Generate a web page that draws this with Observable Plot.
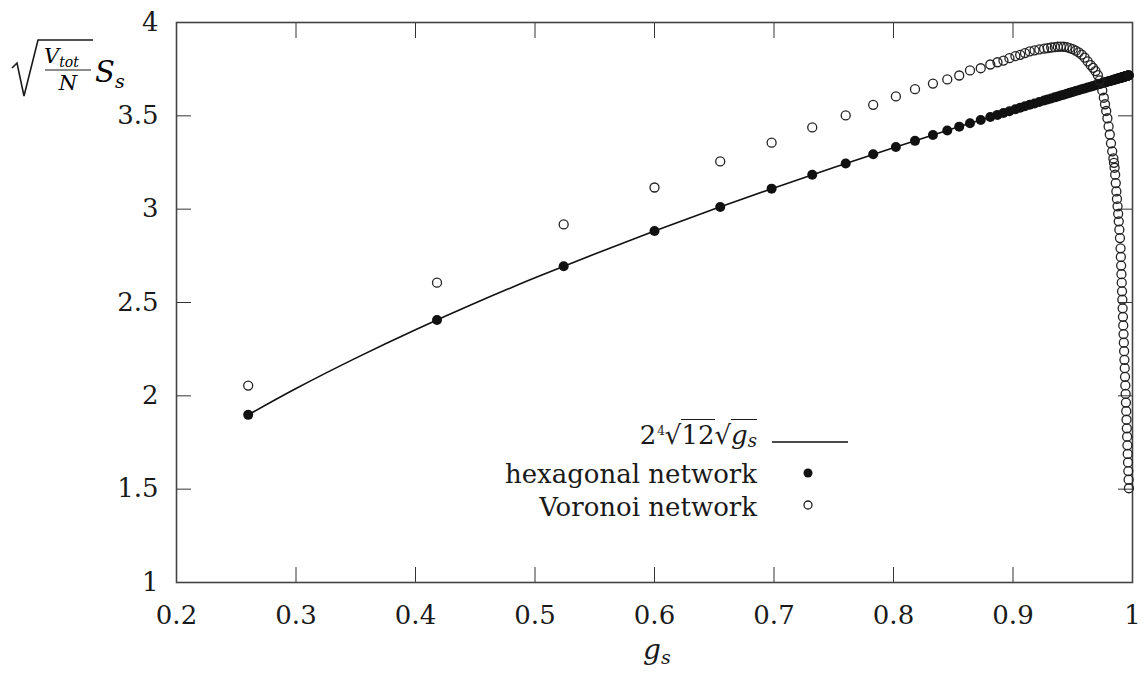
<!DOCTYPE html>
<html><head><meta charset="utf-8">
<script src="https://cdn.jsdelivr.net/npm/d3@7"></script>
<script src="https://cdn.jsdelivr.net/npm/@observablehq/plot@0.6"></script>
<style>
body{margin:0;background:#fff;}
#wrap{position:relative;width:1148px;height:680px;font-family:"DejaVu Serif","Liberation Serif",serif;color:#1a1a1a;}
.ov{position:absolute;white-space:nowrap;}
.leg{position:absolute;right:391px;font-size:26px;line-height:26px;white-space:nowrap;}
.bar{border-top:1.4px solid #1a1a1a;}
</style></head><body><div id="wrap"></div>
<script>
// shared g_s values (x) of both networks
const gs = [0.260,0.418,0.524,0.600,0.655,0.698,0.732,0.760,0.783,0.802,0.818,0.833,0.845,0.855,0.864,0.873,0.881,0.887,0.892,0.897,0.902,0.906,
0.910,0.914,0.918,0.922,0.926,0.929,0.932,0.935,0.9375,0.940,
0.9425,0.945,0.9475,0.950,0.9525,0.955,0.9575,0.960,0.9625,0.965,0.967,0.969,0.971,0.9725,0.9747,
0.976,0.977,0.978,0.979,0.980,0.981,0.982,0.983,0.984,
0.9845,0.985,0.9855,0.986,0.9865,0.987,0.9875,0.988,0.9885,0.989,0.9895,0.990,
0.99025,0.9905,0.99075,0.991,0.99125,0.9915,0.99175,0.992,0.99225,0.9925,0.99275,0.993,0.99325,0.9935,0.99375,0.994,0.99425,0.9945,0.99475,0.995,0.99525,0.9955,0.99575,0.996,0.99625,0.9965,0.99675,0.997];
const hexY = [1.898,2.406,2.694,2.883,3.012,3.110,3.184,3.245,3.294,3.333,3.366,3.397,3.421,3.442,3.460,3.478,3.494,3.505,3.515,3.525,3.535,3.543,
3.551,3.559,3.566,3.574,3.582,3.588,3.593,3.599,3.604,3.609,
3.613,3.618,3.623,3.628,3.633,3.637,3.642,3.647,3.652,3.656,3.660,3.664,3.668,3.670,3.675,
3.677,3.679,3.681,3.683,3.685,3.686,3.688,3.690,3.692,
3.693,3.694,3.695,3.696,3.697,3.698,3.699,3.700,3.701,3.701,3.702,3.703,
3.704,3.704,3.705,3.705,3.706,3.706,3.707,3.707,3.708,3.708,3.709,3.709,3.710,3.710,3.711,3.711,3.712,3.712,3.713,3.713,3.714,3.714,3.715,3.715,3.716,3.716,3.716,3.717];
const vorY = [2.055,2.606,2.918,3.116,3.256,3.356,3.438,3.502,3.559,3.604,3.643,3.673,3.695,3.716,3.743,3.755,3.775,3.787,3.796,3.809,3.820,3.827,
3.836,3.845,3.851,3.856,3.860,3.863,3.866,3.868,3.870,3.871,
3.870,3.868,3.863,3.857,3.849,3.840,3.828,3.812,3.792,3.772,3.757,3.740,3.718,3.690,3.636,
3.597,3.562,3.526,3.487,3.443,3.400,3.353,3.310,3.272,
3.248,3.222,3.185,3.140,3.095,3.055,3.015,2.975,2.935,2.890,2.845,2.790,
2.744,2.698,2.652,2.606,2.560,2.515,2.469,2.423,2.377,2.331,2.285,2.239,2.193,2.148,2.102,2.056,2.010,1.964,1.918,1.872,1.826,1.781,1.735,1.689,1.643,1.597,1.551,1.505];
// curve 2*12^(1/4)*sqrt(g_s)
const curveX = [0.26,0.30,0.35,0.40,0.45,0.50,0.55,0.60,0.65,0.70,0.75,0.80,0.85,0.90,0.95,1.00];
const curveY = [1.898,2.039,2.202,2.354,2.497,2.632,2.760,2.883,3.001,3.114,3.223,3.329,3.432,3.531,3.628,3.722];
const xTicks = [0.2,0.3,0.4,0.5,0.6,0.7,0.8,0.9,1];
const yTicks = [1,1.5,2,2.5,3,3.5,4];
const legendLabels = ["hexagonal network","Voronoi network"];

const points = gs.map((g,i)=>({g, hex:hexY[i], vor:vorY[i]}));
const curve = curveX.map((x,i)=>({x, y:curveY[i]}));
const fmt = d => String(+d.toFixed(1));
const FONT = "DejaVu Serif, Liberation Serif, serif";

const chart = Plot.plot({
  width:1148, height:680,
  marginLeft:176, marginRight:16, marginTop:22, marginBottom:98,
  x:{domain:[0.2,1]}, y:{domain:[1,4]},
  style:{fontFamily:FONT, fontSize:"26px", color:"#1a1a1a", background:"#fff"},
  marks:[
    Plot.axisX(xTicks,{anchor:"bottom", tickSize:-15, tickPadding:38, tickFormat:fmt, label:null, stroke:"#333"}),
    Plot.axisX(xTicks,{anchor:"top", tickSize:-15, tickFormat:()=>null, label:null, stroke:"#333"}),
    Plot.axisY(yTicks,{anchor:"left", tickSize:-15, tickPadding:33, tickFormat:fmt, label:null, stroke:"#333"}),
    Plot.axisY(yTicks,{anchor:"right", tickSize:-15, tickFormat:()=>null, label:null, stroke:"#333"}),
    Plot.frame({stroke:"#444", strokeWidth:1.6}),
    Plot.line(curve,{x:"x", y:"y", stroke:"#111", strokeWidth:1.6, curve:"natural"}),
    Plot.dot(points,{x:"g", y:"hex", r:5, fill:"#111", stroke:null}),
    Plot.dot(points,{x:"g", y:"vor", r:4.5, fill:"none", stroke:"#222", strokeWidth:1.3})
  ]
});
const wrap = document.getElementById("wrap");
wrap.appendChild(chart);

// y-axis label
const yl = document.createElement("div");
yl.className = "ov"; yl.style.left = "0px"; yl.style.top = "0px";
yl.innerHTML = `<svg width="140" height="110" style="overflow:visible" font-family="${FONT}">
 <path d="M12,68 L17,63 L24,96 L38,40 L93,40" fill="none" stroke="#1a1a1a" stroke-width="1.6"/>
 <line x1="45" x2="91" y1="70" y2="70" stroke="#1a1a1a" stroke-width="1.2"/>
 <text x="44" y="63" font-style="italic" font-size="21">V<tspan font-size="14" dy="4">tot</tspan></text>
 <text x="68" y="90" text-anchor="middle" font-style="italic" font-size="21">N</text>
 <text x="95" y="82" font-style="italic" font-size="29">S<tspan font-size="19" dy="6">s</tspan></text>
</svg>`;
wrap.appendChild(yl);

// x-axis label
const xl = document.createElement("div");
xl.className = "ov"; xl.style.left = "643px"; xl.style.top = "636px";
xl.style.fontSize = "28px"; xl.style.fontStyle = "italic"; xl.style.lineHeight = "28px";
xl.innerHTML = `g<span style="font-size:19px;position:relative;top:5px">s</span>`;
wrap.appendChild(xl);

// legend
const r1 = document.createElement("div");
r1.className = "leg"; r1.style.top = "424px"; r1.style.lineHeight = "22px";
r1.innerHTML = `2<span style="font-size:12px;position:relative;top:-9px;margin-left:1px">4</span>√<span class="bar">12</span>√<span class="bar"><i>g</i><span style="font-size:18px;position:relative;top:3px;font-style:italic">s</span></span>`;
wrap.appendChild(r1);
legendLabels.forEach((t,i)=>{
  const d = document.createElement("div");
  d.className = "leg"; d.style.top = (461 + 33*i) + "px";
  d.textContent = t;
  wrap.appendChild(d);
});
const sym = document.createElement("div");
sym.className = "ov"; sym.style.left = "0px"; sym.style.top = "0px";
sym.innerHTML = `<svg width="1148" height="680" style="pointer-events:none">
 <line x1="772" x2="848" y1="442" y2="442" stroke="#111" stroke-width="1.6"/>
 <circle cx="808" cy="473" r="4.5" fill="#111"/>
 <circle cx="808" cy="505" r="4" fill="none" stroke="#222" stroke-width="1.3"/>
</svg>`;
wrap.appendChild(sym);
</script>
</body></html>
